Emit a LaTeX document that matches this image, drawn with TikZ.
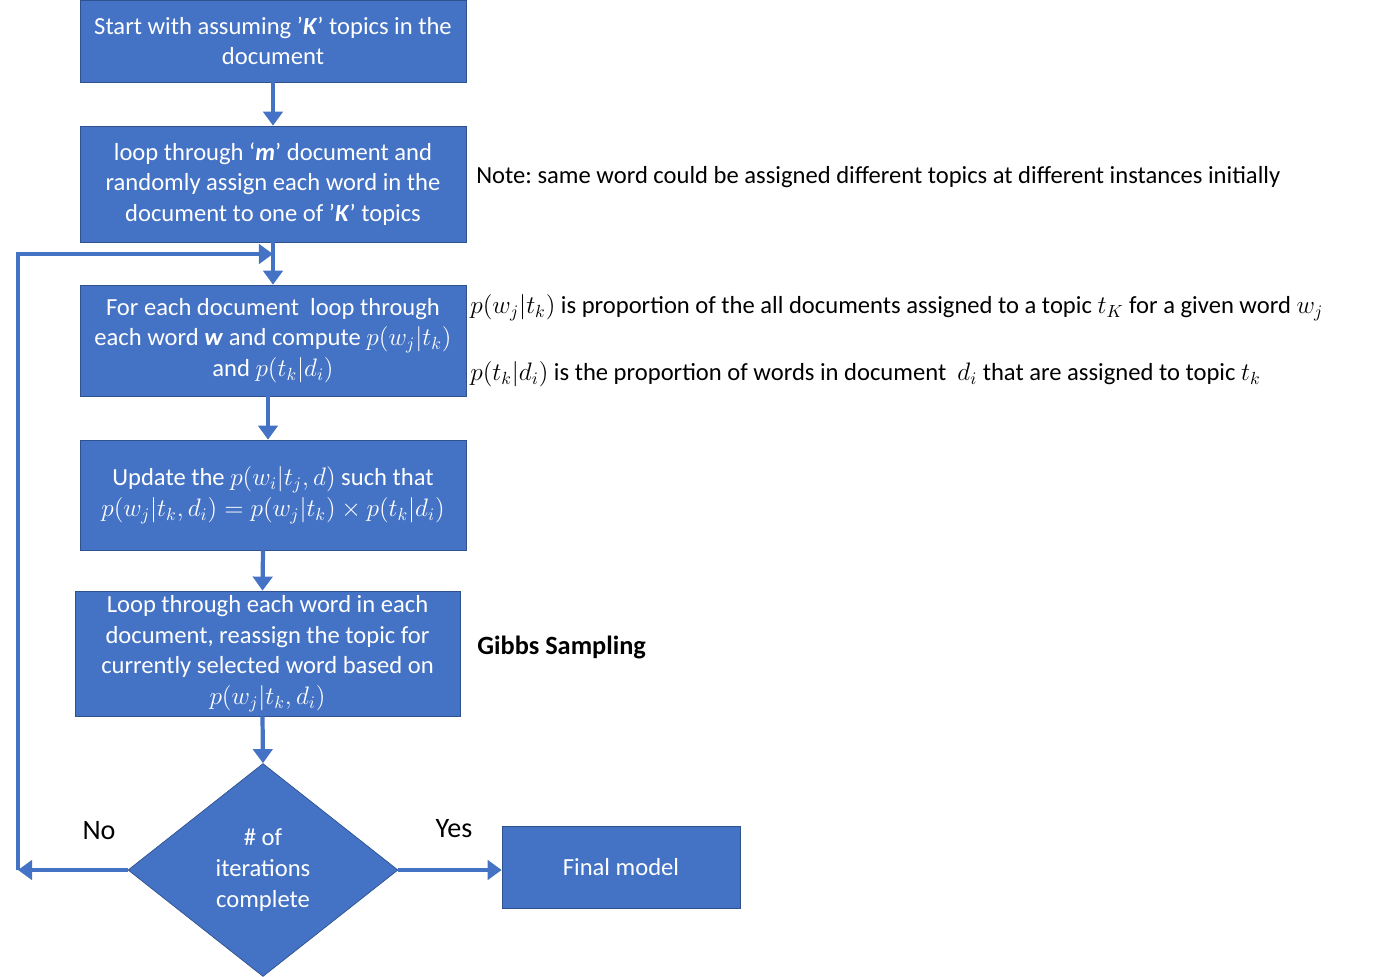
\documentclass[tikz,border=0pt]{standalone}
\usepackage{amsmath, amssymb}
\usepackage{fontspec}
\setmainfont{Carlito}
\usetikzlibrary{positioning,arrows.meta,shapes.geometric}
\definecolor{boxblue}{RGB}{68,114,196}
\definecolor{edgeblue}{RGB}{47,82,143}
\frenchspacing

\begin{document}
\begin{tikzpicture}[x=0.02cm, y=-0.02cm, >={Triangle[width=11pt,length=8pt]},
  every node/.style={font=\fontsize{14}{17.5}\selectfont},
  stepbox/.style={draw=edgeblue, thin, fill=boxblue, text=white, align=center, inner sep=2pt},
  flow/.style={->, draw=boxblue, line width=2.4pt},
  sidenote/.style={anchor=west, inner sep=0pt, text=black}]
  \useasboundingbox (0,0) rectangle (1400,977);
  \node[stepbox, minimum width=7.72cm, minimum height=1.64cm] (start) at (273,41) {Start with assuming ’\textbf{\textit{K}}’ topics in the\\document};
  \node[stepbox, minimum width=7.72cm, minimum height=2.32cm] (assign) at (273,184) {loop through ‘\textbf{\textit{m}}’ document and\\randomly assign each word in the\\document to one of ’\textbf{\textit{K}}’ topics};
  \node[stepbox, minimum width=7.72cm, minimum height=2.22cm] (compute) at (273,340.5) {For each document\ \ loop through\\each word \textbf{\textit{w}} and compute $p(w_j|t_k)$\\and $p(t_k|d_i)$};
  \node[stepbox, minimum width=7.72cm, minimum height=2.2cm] (update) at (273,495) {Update the $p(w_i|t_j,d)$ such that\\$p(w_j|t_k,d_i)=p(w_j|t_k)\times p(t_k|d_i)$};
  \node[stepbox, minimum width=7.7cm, minimum height=2.5cm] (reassign) at (267.5,653.5) {Loop through each word in each\\document, reassign the topic for\\currently selected word based on\\$p(w_j|t_k,d_i)$};
  \node[stepbox, diamond, minimum width=5.4cm, minimum height=4.26cm, inner sep=0pt] (iter) at (263,870) {\#\ of\\iterations\\complete};
  \node[stepbox, minimum width=4.76cm, minimum height=1.64cm] (final) at (621,867) {Final model};

  \coordinate (join) at (273,254);
  \coordinate (corner) at (18,870);

  \draw[flow] (start) -- (assign);
  \draw[flow] (assign) -- (compute);
  \draw[flow] ([xshift=-0.1cm]compute.south) -- ([xshift=-0.1cm]update.north);
  \draw[flow] ([xshift=-0.2cm]update.south) -- ([xshift=-0.1cm]reassign.north);
  \draw[flow] ([xshift=-0.1cm]reassign.south) -- (iter.north);
  \draw[flow] (iter.east) -- (iter.east -| final.west);
  \draw[flow] (iter.west) -- (corner);
  \draw[flow] (corner) |- (join);

  \node[text=black, font=\fontsize{16}{19}\selectfont] (no) at (99,831) {No};
  \node[text=black, font=\fontsize{16}{19}\selectfont] (yes) at (454,829) {Yes};

  \node[sidenote] (note) at (476,177) {Note: same word could be assigned different topics at different instances initially};
  \node[sidenote] (pwt) at (470,308) {$p(w_j|t_k)$ is proportion of the all documents assigned to a topic $t_K$ for a given word $w_j$};
  \node[sidenote] (ptd) at (470,374) {$p(t_k|d_i)$ is the proportion of words in document\ \ $d_i$ that are assigned to topic $t_k$};
  \node[sidenote, font=\bfseries\fontsize{15}{18}\selectfont] (gibbs) at (477,647) {Gibbs Sampling};
\end{tikzpicture}
\end{document}
